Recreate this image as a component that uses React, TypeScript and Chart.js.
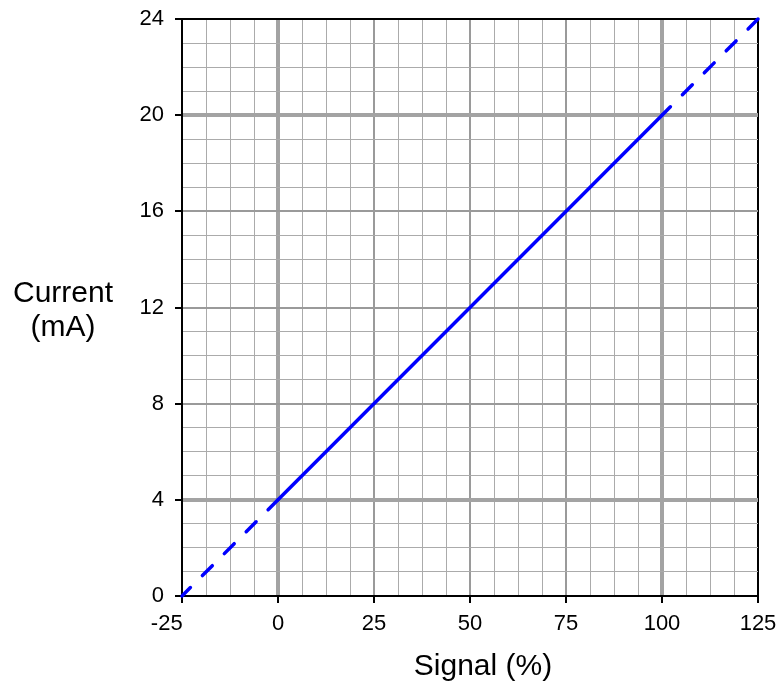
import { useEffect, useRef } from "react";
import { Chart, registerables } from "chart.js";

Chart.register(...registerables);

// Axis ranges and grid steps
const X_MIN = -25;
const X_MAX = 125;
const X_MINOR_STEP = 6.25;
const Y_MIN = 0;
const Y_MAX = 24;
const Y_MINOR_STEP = 1;

// Labelled ticks
const X_TICK_LABELS = [-25, 0, 25, 50, 75, 100, 125];
const Y_TICK_LABELS = [0, 4, 8, 12, 16, 20, 24];
// Heavy grid lines (0% / 100%, 4 mA / 20 mA)
const X_HEAVY = [0, 100];
const Y_HEAVY = [4, 20];

// Series: solid 0-100 % range, dashed extrapolations
const SIGNAL_SOLID = [0, 100];
const CURRENT_SOLID = [4, 20];
const SIGNAL_LOW = [0, -25];
const CURRENT_LOW = [4, 0];
const SIGNAL_HIGH = [125, 100];
const CURRENT_HIGH = [24, 20];

const X_TITLE = "Signal (%)";
const Y_TITLE_LINES = ["Current", "(mA)"];

const FONT = '"Liberation Sans", Arial, Helvetica, sans-serif';

function stepValues(min: number, max: number, step: number): number[] {
  const out: number[] = [];
  const n = Math.round((max - min) / step);
  for (let i = 0; i <= n; i++) out.push(Math.round((min + i * step) * 10000) / 10000);
  return out;
}

const pts = (xs: number[], ys: number[]) => xs.map((x, i) => ({ x, y: ys[i] }));

const titlePlugin = {
  id: "axisTitles",
  afterDraw(chart: any) {
    const ctx = chart.ctx;
    ctx.save();
    ctx.font = `30px ${FONT}`;
    ctx.fillStyle = "#000";
    ctx.textAlign = "center";
    ctx.textBaseline = "alphabetic";
    ctx.fillText(Y_TITLE_LINES[0], 63, 302);
    ctx.fillText(Y_TITLE_LINES[1], 63, 336);
    ctx.fillText(X_TITLE, 483, 675);
    ctx.restore();
  },
};

function gridStyle(v: number, min: number, max: number, heavy: number[], labels: number[]) {
  if (v === min || v === max) return { color: "#000", width: 2 };
  if (heavy.includes(v)) return { color: "#a3a3a3", width: 4 };
  if (labels.includes(v)) return { color: "#9a9a9a", width: 2 };
  return { color: "#ababab", width: 1 };
}

export default function App() {
  const canvasRef = useRef<HTMLCanvasElement | null>(null);

  useEffect(() => {
    if (!canvasRef.current) return;
    const xTicks = stepValues(X_MIN, X_MAX, X_MINOR_STEP);
    const yTicks = stepValues(Y_MIN, Y_MAX, Y_MINOR_STEP);
    const lineBase = {
      borderColor: "#0000ff",
      borderWidth: 3.5,
      pointRadius: 0,
      borderCapStyle: "round" as const,
      fill: false,
      tension: 0,
      clip: 4,
    };
    const chart = new Chart(canvasRef.current, {
      type: "line",
      data: {
        datasets: [
          { ...lineBase, data: pts(SIGNAL_LOW, CURRENT_LOW), borderDash: [14, 17] },
          { ...lineBase, data: pts(SIGNAL_SOLID, CURRENT_SOLID) },
          { ...lineBase, data: pts(SIGNAL_HIGH, CURRENT_HIGH), borderDash: [14, 17] },
        ],
      },
      options: {
        animation: false,
        responsive: true,
        maintainAspectRatio: false,
        parsing: false,
        layout: { padding: { top: 19, right: 18, left: 0, bottom: 0 } },
        plugins: { legend: { display: false }, tooltip: { enabled: false } },
        scales: {
          x: {
            type: "linear",
            min: X_MIN,
            max: X_MAX,
            afterBuildTicks: (scale: any) => {
              scale.ticks = xTicks.map((value) => ({ value }));
            },
            afterFit: (scale: any) => {
              scale.height = 86;
              scale.paddingLeft = 0;
              scale.paddingRight = 0;
            },
            grid: {
              color: (c: any) => gridStyle(c.tick.value, X_MIN, X_MAX, X_HEAVY, X_TICK_LABELS).color,
              lineWidth: (c: any) => gridStyle(c.tick.value, X_MIN, X_MAX, X_HEAVY, X_TICK_LABELS).width,
              tickColor: (c: any) => (X_TICK_LABELS.includes(c.tick.value) ? "#000" : "rgba(0,0,0,0)"),
              tickWidth: 2,
              tickLength: 7,
              drawTicks: true,
            },
            border: { display: true, color: "#000", width: 2 },
            ticks: {
              autoSkip: false,
              maxRotation: 0,
              padding: 8,
              color: "#000",
              font: { family: FONT, size: 22 },
              callback: (v: any) => {
                const n = Number(v);
                if (!X_TICK_LABELS.includes(n)) return "";
                // leftmost label sits left of its tick in the reference
                return n === X_MIN ? `${n}     ` : String(n);
              },
            },
          },
          y: {
            type: "linear",
            min: Y_MIN,
            max: Y_MAX,
            afterBuildTicks: (scale: any) => {
              scale.ticks = yTicks.map((value) => ({ value }));
            },
            afterFit: (scale: any) => {
              scale.width = 182;
              scale.paddingTop = 0;
              scale.paddingBottom = 0;
            },
            grid: {
              color: (c: any) => gridStyle(c.tick.value, Y_MIN, Y_MAX, Y_HEAVY, Y_TICK_LABELS).color,
              lineWidth: (c: any) => gridStyle(c.tick.value, Y_MIN, Y_MAX, Y_HEAVY, Y_TICK_LABELS).width,
              tickColor: (c: any) => (Y_TICK_LABELS.includes(c.tick.value) ? "#000" : "rgba(0,0,0,0)"),
              tickWidth: 2,
              tickLength: 7,
              drawTicks: true,
            },
            border: { display: true, color: "#000", width: 2 },
            ticks: {
              autoSkip: false,
              padding: 11,
              color: "#000",
              font: { family: FONT, size: 22 },
              callback: (v: any) => (Y_TICK_LABELS.includes(Number(v)) ? String(v) : ""),
            },
          },
        },
      },
      plugins: [titlePlugin],
    });
    return () => chart.destroy();
  }, []);

  return (
    <div style={{ position: "absolute", left: 0, top: 0, width: 776, height: 682, background: "#fff" }}>
      <canvas ref={canvasRef} />
    </div>
  );
}
